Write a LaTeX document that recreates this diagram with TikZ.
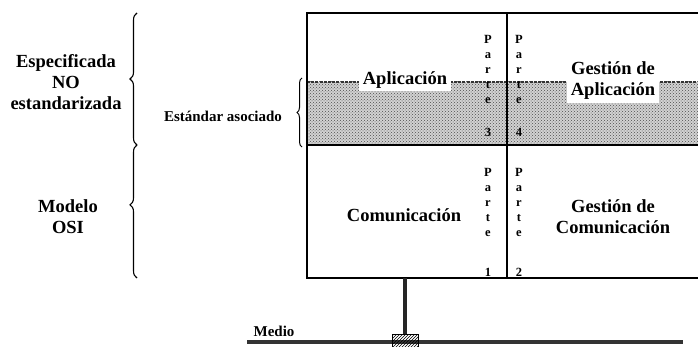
\documentclass[tikz,border=0pt]{standalone}
\usepackage{fontspec}
\setmainfont{Liberation Serif}
\usetikzlibrary{decorations.pathreplacing,patterns}
\begin{document}
\begin{tikzpicture}[x=1pt,y=-1pt,
  lbl/.style={font=\fontsize{18.5}{21}\selectfont\bfseries, align=center, inner sep=0pt},
  small/.style={font=\fontsize{15}{17}\selectfont\bfseries, inner sep=0pt},
  parte/.style={font=\fontsize{12.5}{15}\selectfont\bfseries, align=center, inner sep=0pt, anchor=north},
  bigbrace/.style={draw, line width=1.1pt, decorate, decoration={brace, amplitude=7pt}},
  frame/.style={line width=1.8pt},
  whitebg/.style={fill=white, inner xsep=4pt, inner ysep=3pt},
]
\useasboundingbox (0,0) rectangle (698,347);
% shaded standard band
\fill[gray!35] (307,82) rectangle (705,145);
\fill[pattern=crosshatch dots, pattern color=gray!60!black] (307,82) rectangle (705,145);
\draw[line width=1.2pt, dash pattern=on 3pt off 1.2pt, gray!40!black] (307,82) -- (705,82);
% frame
\coordinate (tl) at (307,13);
\coordinate (br) at (705,278);
\draw[frame] (tl) rectangle (br);
\draw[frame] (307,145) -- (705,145);
\draw[line width=1.4pt] (507,13) -- (507,278);
% labels in box
\node[lbl, whitebg] (apl) at (405,80) {Aplicación};
\node[lbl, whitebg] (gapl) at (613,81) {Gestión de\\Aplicación};
\node[lbl] (com) at (404,215) {Comunicación};
\node[lbl] (gcom) at (613,217) {Gestión de\\Comunicación};
% parte columns
\node[parte] (p3) at (488,35) {P\\a\\r\\t\\e\\[18pt]3};
\node[parte] (p4) at (519,35) {P\\a\\r\\t\\e\\[18pt]4};
\node[parte] (p1) at (488,168) {P\\a\\r\\t\\e\\[25pt]1};
\node[parte] (p2) at (519,168) {P\\a\\r\\t\\e\\[25pt]2};
% left labels
\node[lbl] (esp) at (66,82) {Especificada\\NO\\estandarizada};
\node[lbl] (osi) at (68,217) {Modelo\\OSI};
\node[small] (est) at (223,116) {Estándar asociado};
% braces
\coordinate (b1s) at (137,145);
\coordinate (b1e) at (137,13);
\coordinate (b2s) at (137,278);
\coordinate (b2e) at (137,145);
\coordinate (b3s) at (302,147);
\coordinate (b3e) at (302,78);
\draw[bigbrace] (b1s) -- (b1e);
\draw[bigbrace, decoration={brace, amplitude=7pt, aspect=0.55}] (b2s) -- (b2e);
\draw[line width=1pt, decorate, decoration={brace, amplitude=5pt}] (b3s) -- (b3e);
% medium
\coordinate (m1) at (247,342);
\coordinate (m2) at (683,342);
\draw[line width=3.8pt, gray!40!black] (m1) -- (m2);
\node[small, anchor=south] (medio) at (274,337) {Medio};
\node[draw, line width=1pt, fill=white, pattern=north east lines, minimum width=26pt, minimum height=13pt, inner sep=0pt] (tap) at (405,341) {};
\coordinate (stemtop) at (405,278);
\draw[line width=3.4pt, gray!30!black] (stemtop) -- (tap.north);
\end{tikzpicture}
\end{document}
